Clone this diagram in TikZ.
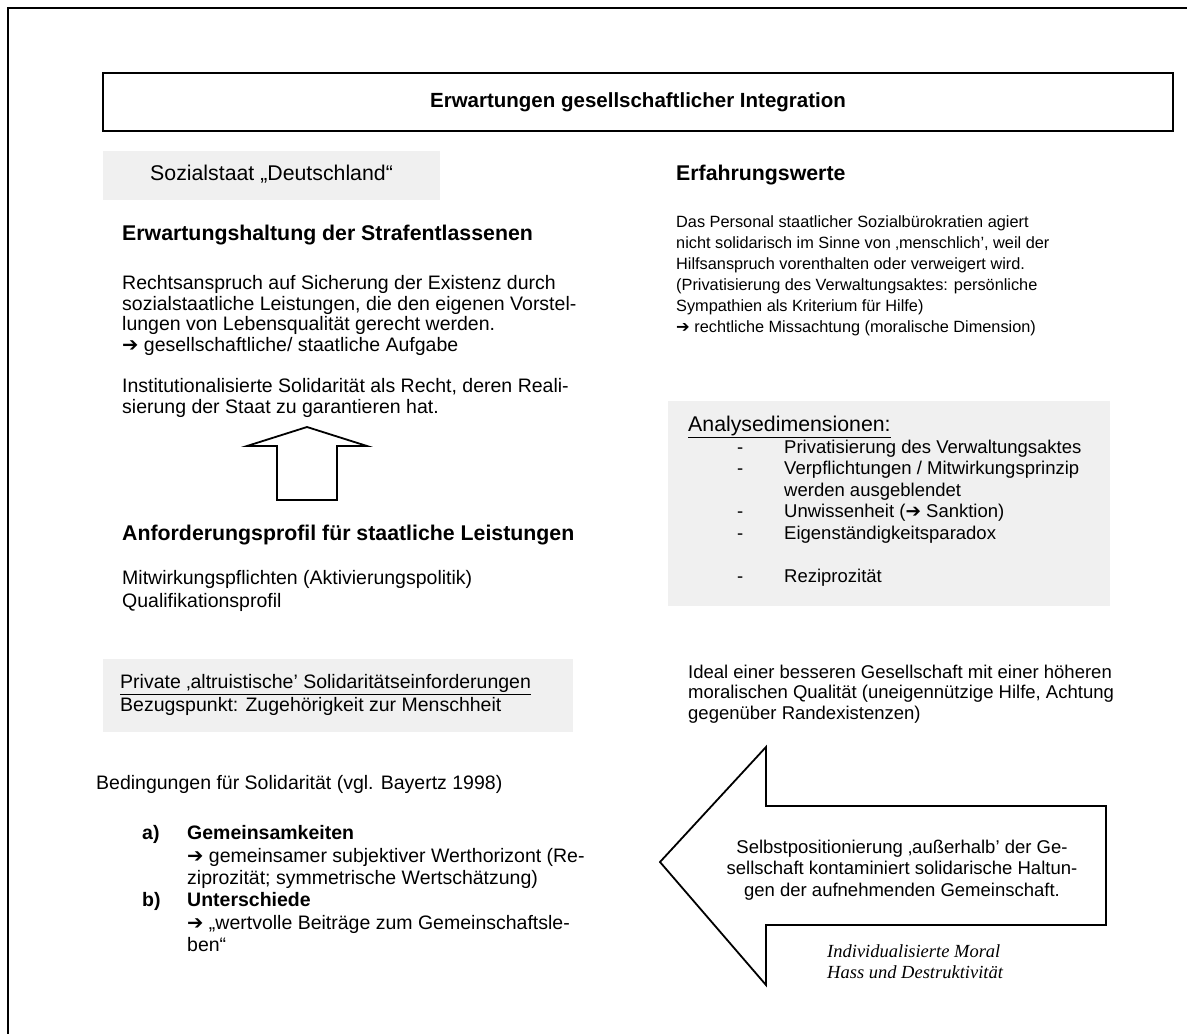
\documentclass[tikz,border=0pt]{standalone}
\usepackage{fontspec}
\setmainfont{Liberation Sans}
\newfontfamily\seriffam{Liberation Serif}
\newfontfamily\dingfam{DejaVu Sans}
\newcommand\arrowmark{{\dingfam ➔}}
\definecolor{panel}{RGB}{240,240,240}

% one node per text line: prefix, style, x, first baseline, line skip, lines
\newcommand\putlines[6]{%
  \foreach \ln [count=\k from 0] in {#6}{%
    \node[#2, anchor=base west] (#1\k) at (#3, {#4+\k*#5}) {\ln};}}

\tikzset{
  frame/.style={line width=1.8pt},
  titlebox/.style={draw, line width=1.8pt, minimum width=1070, minimum height=58, inner sep=0},
  panelbox/.style={fill=panel, draw=none, inner sep=0, anchor=north west},
  blockarrow/.style={line width=1.8pt, line join=miter, fill=white},
  leftbody/.style={font=\fontsize{19.5}{21}\selectfont, inner sep=0},
  rightbody/.style={font=\fontsize{16.3}{19}\selectfont, inner sep=0},
  boxbody/.style={font=\fontsize{18.5}{20}\selectfont, inner sep=0},
  boxhead/.style={font=\fontsize{21.3}{23}\selectfont, inner sep=0},
  heading/.style={font=\fontsize{21.3}{23}\selectfont\bfseries, inner sep=0},
  subhead/.style={font=\fontsize{19.5}{21}\selectfont\bfseries, inner sep=0},
  italicnote/.style={font=\seriffam\itshape\fontsize{18.5}{20}\selectfont, inner sep=0},
}

\begin{document}
\begin{tikzpicture}[x=1pt, y=-1pt]
\useasboundingbox (0,0) rectangle (1187,1034);
\clip (0,0) rectangle (1187,1034);

% outer frame, running off the page at right and bottom
\draw[frame] (8,1060) -- (8,8) -- (1200,8);

% title
\node[titlebox, font=\fontsize{20.5}{22}\selectfont\bfseries] (title) at (638,102)
  {Erwartungen gesellschaftlicher Integration};

% ---------------- left column ----------------
\node[panelbox, minimum width=337, minimum height=49] (sozbox) at (103,151) {};
\node[boxhead, anchor=base west] (soz) at (150,180) {Sozialstaat „Deutschland“};

\node[heading, anchor=base west] (erwhead) at (122,240) {Erwartungshaltung der Strafentlassenen};
\putlines{erw}{leftbody}{122}{289.5}{20.5}{%
  {Rechtsanspruch auf Sicherung der Existenz durch},
  {sozialstaatliche Leistungen, die den eigenen Vorstel-},
  {lungen von Lebensqualität gerecht werden.},
  {\arrowmark\ gesellschaftliche/ staatliche Aufgabe}}
\putlines{inst}{leftbody}{122}{392.5}{20.5}{%
  {Institutionalisierte Solidarität als Recht, deren Reali-},
  {sierung der Staat zu garantieren hat.}}

% upward block arrow
\draw[blockarrow] (277,500) -- (277,446) -- (247,446) -- (307,427)
  -- (367,446) -- (337,446) -- (337,500) -- cycle;

\node[heading, anchor=base west] (anfhead) at (122,540) {Anforderungsprofil für staatliche Leistungen};
\putlines{anf}{leftbody}{122}{584.5}{23}{%
  {Mitwirkungspflichten (Aktivierungspolitik)},
  {Qualifikationsprofil}}

\node[panelbox, minimum width=470, minimum height=73] (privbox) at (103,659) {};
\putlines{priv}{leftbody}{120}{688.5}{23}{%
  {\underline{Private ‚altruistische’ Solidaritätseinforderungen}},
  {Bezugspunkt: Zugehörigkeit zur Menschheit}}

\node[leftbody, anchor=base west] (bed) at (96,789.5) {Bedingungen für Solidarität (vgl. Bayertz 1998)};
\node[subhead, anchor=base west] (la) at (142,839.5) {a)};
\node[subhead, anchor=base west] (ha) at (187,839.5) {Gemeinsamkeiten};
\putlines{ga}{leftbody}{187}{862}{22.4}{%
  {\arrowmark\ gemeinsamer subjektiver Werthorizont (Re-},
  {ziprozität; symmetrische Wertschätzung)}}
\node[subhead, anchor=base west] (lb) at (142,906.5) {b)};
\node[subhead, anchor=base west] (hb) at (187,906.5) {Unterschiede};
\putlines{gb}{leftbody}{187}{929}{22.4}{%
  {\arrowmark\ „wertvolle Beiträge zum Gemeinschaftsle-},
  {ben“}}

% ---------------- right column ----------------
\node[heading, anchor=base west] (erfhead) at (676,180) {Erfahrungswerte};
\putlines{erf}{rightbody}{676}{227.5}{21}{%
  {Das Personal staatlicher Sozialbürokratien agiert},
  {nicht solidarisch im Sinne von ‚menschlich’, weil der},
  {Hilfsanspruch vorenthalten oder verweigert wird.},
  {(Privatisierung des Verwaltungsaktes: persönliche},
  {Sympathien als Kriterium für Hilfe)},
  {\arrowmark\ rechtliche Missachtung (moralische Dimension)}}

\node[panelbox, minimum width=442, minimum height=205] (anabox) at (668,401) {};
\node[boxhead, anchor=base west] (anahead) at (688,431) {\underline{Analysedimensionen:}};
\foreach \yy/\tx [count=\k] in {453/{Privatisierung des Verwaltungsaktes},
    474.5/{Verpflichtungen / Mitwirkungsprinzip},
    496/{werden ausgeblendet},
    517.5/{Unwissenheit (\arrowmark\ Sanktion)},
    539/{Eigenständigkeitsparadox},
    582/{Reziprozität}}{%
  \node[boxbody, anchor=base west] (item\k) at (784,\yy) {\tx};}
\foreach \yy [count=\k] in {453,474.5,517.5,539,582}{%
  \node[boxbody, anchor=base west] (dash\k) at (737,\yy) {-};}

\putlines{ideal}{boxbody}{688}{678}{20.5}{%
  {Ideal einer besseren Gesellschaft mit einer höheren},
  {moralischen Qualität (uneigennützige Hilfe, Achtung},
  {gegenüber Randexistenzen)}}

% leftward block arrow
\draw[blockarrow] (1106,806) -- (766,806) -- (766,747) -- (660,862)
  -- (766,985) -- (766,925) -- (1106,925) -- cycle;
\foreach \yy/\tx [count=\k] in {853/{Selbstpositionierung ‚außerhalb’ der Ge-},
    874.5/{sellschaft kontaminiert solidarische Haltun-},
    896/{gen der aufnehmenden Gemeinschaft.}}{%
  \node[boxbody, anchor=base] (self\k) at (902,\yy) {\tx};}

\putlines{moral}{italicnote}{827}{957}{21}{%
  {Individualisierte Moral},
  {Hass und Destruktivität}}
\end{tikzpicture}
\end{document}
